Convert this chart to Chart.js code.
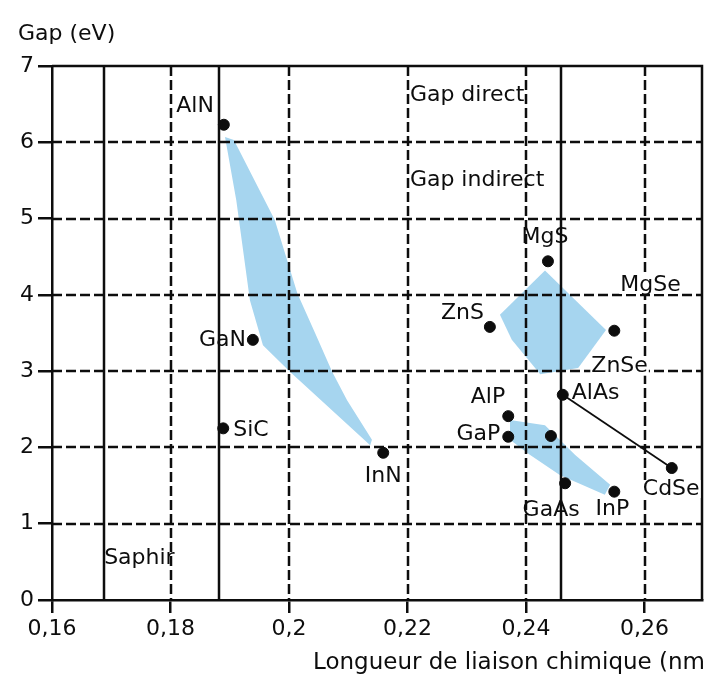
<!DOCTYPE html>
<html>
<head>
<meta charset="utf-8">
<script src="https://cdn.jsdelivr.net/npm/chart.js@4/dist/chart.umd.min.js"></script>
<style>
html,body{margin:0;padding:0;background:#fff;}
#wrap{width:704px;height:681px;position:relative;}
</style>
</head>
<body>
<div id="wrap"><canvas id="c" width="704" height="681"></canvas></div>
<script>
// ---- data ----
const pointNames = ['AlN','GaN','SiC','InN','MgS','ZnS','ZnSe','AlAs','AlP','GaP','','GaAs','InP','CdSe'];
const bondLength = [0.1890,0.1939,0.1889,0.2159,0.2437,0.2339,0.2549,0.2462,0.2370,0.2370,0.2442,0.2466,0.2549,0.2646];
const gapEV      = [6.23, 3.41, 2.25, 1.93, 4.44, 3.58, 3.53, 2.69, 2.41, 2.14, 2.15, 1.53, 1.42, 1.73];
const tieLine = ['AlAs','CdSe'];
const xTicks = [0.16,0.18,0.2,0.22,0.24,0.26];
const yTicks = [0,1,2,3,4,5,6,7];
const substrateX = [0.1688,0.1882,0.2459];
// shaded alloy regions (polygon vertices, data units)
const nitrideX = [0.1892,0.1907,0.1976,0.2014,0.2044,0.2073,0.2098,0.2140,0.2137,0.2002,0.1956,0.1934,0.1911,0.1892];
const nitrideY = [6.07, 6.03, 4.98, 4.02, 3.50, 2.99, 2.62, 2.10, 2.03, 2.99, 3.34, 3.93, 5.24, 6.07];
const ii6X = [0.2356,0.2432,0.2535,0.2488,0.2424,0.2376,0.2356];
const ii6Y = [3.74, 4.32, 3.54, 3.04, 2.96, 3.41, 3.74];
const iii5X = [0.2373,0.2432,0.2483,0.2542,0.2533,0.2457,0.2407,0.2373,0.2373];
const iii5Y = [2.36, 2.29, 1.90, 1.51, 1.38, 1.64, 1.90, 2.10, 2.36];
// free text annotations (data units)
const noteText = ['MgSe','Gap direct','Gap indirect','Saphir'];
const noteX = [0.2559,0.2204,0.2204,0.1688];
const noteY = [4.13, 6.62, 5.50, 0.55];
const yTitle = 'Gap (eV)';
const xTitle = 'Longueur de liaison chimique (nm)';

// ---- styles ----
const FONT = '"DejaVu Sans", sans-serif';
const FS = 22;
const INK = '#0d0d0d';
const BLUE = 'rgba(166,213,239,1)';
// label placement [dx, dy, align, whiteBg]
const labelStyle = {
  'AlN':[-10,-18,'right'], 'GaN':[-7,0,'right'], 'SiC':[10,2,'left'], 'InN':[0,24,'center'],
  'MgS':[-3,-24,'center'], 'ZnS':[-6,-14,'right'], 'ZnSe':[-23,36,'left',true], 'AlAs':[9,-2,'left'],
  'AlP':[-3,-19,'right'], 'GaP':[-8,-2,'right'], 'GaAs':[-14,27,'center'], 'InP':[-2,18,'center'],
  'CdSe':[-29,21,'left',true]
};
const noteStyle = {'MgSe':['left',true], 'Gap direct':['left',false], 'Gap indirect':['left',false], 'Saphir':['left',false]};

const zip = (xs, ys) => xs.map((x,i)=>({x, y: ys[i]}));
const pts = zip(bondLength, gapEV);
const tiePts = tieLine.map(n => pts[pointNames.indexOf(n)]);

function poly(xs, ys){
  return {type:'line', data: zip(xs, ys), fill:'shape', backgroundColor: BLUE,
    borderWidth:0, borderColor:'rgba(0,0,0,0)', pointRadius:0, tension:0, order:5};
}

const gridPlugin = {
  id:'gridPlugin',
  beforeDatasetsDraw(chart){
    const {ctx, chartArea:a, scales:{x,y}} = chart;
    ctx.save();
    ctx.strokeStyle = INK; ctx.lineWidth = 2.5;
    ctx.setLineDash([10,4]);
    xTicks.forEach(v => { if (v === xTicks[0]) return; const px = Math.round(x.getPixelForValue(v));
      ctx.beginPath(); ctx.moveTo(px, a.top); ctx.lineTo(px, a.bottom); ctx.stroke(); });
    yTicks.forEach(v => { if (v === 0 || v === 7) return; const py = Math.round(y.getPixelForValue(v));
      ctx.beginPath(); ctx.moveTo(a.left, py); ctx.lineTo(a.right, py); ctx.stroke(); });
    ctx.setLineDash([]);
    substrateX.forEach(v => { const px = Math.round(x.getPixelForValue(v));
      ctx.beginPath(); ctx.moveTo(px, a.top); ctx.lineTo(px, a.bottom); ctx.stroke(); });
    ctx.beginPath(); ctx.moveTo(a.left, a.top); ctx.lineTo(a.right, a.top); ctx.lineTo(a.right, a.bottom); ctx.stroke();
    ctx.restore();
  }
};

function drawText(ctx, txt, px, py, align, bg, size){
  ctx.font = (size || FS) + 'px ' + FONT;
  ctx.textAlign = align; ctx.textBaseline = 'middle';
  if (bg){
    const w = ctx.measureText(txt).width;
    let x0 = align === 'left' ? px : align === 'right' ? px - w : px - w/2;
    ctx.fillStyle = '#fff';
    ctx.fillRect(x0 - 1, py - 9, w + 2, 18);
  }
  ctx.fillStyle = INK;
  ctx.fillText(txt, px, py);
}

const labelPlugin = {
  id:'labelPlugin',
  afterDatasetsDraw(chart){
    const {ctx, scales:{x,y}} = chart;
    ctx.save();
    pointNames.forEach((n,i) => {
      if (!n) return;
      const s = labelStyle[n];
      const px = x.getPixelForValue(bondLength[i]), py = y.getPixelForValue(gapEV[i]);
      drawText(ctx, n, px + s[0], py + s[1], s[2], s[3]);
    });
    noteText.forEach((n,i) => {
      const s = noteStyle[n];
      drawText(ctx, n, x.getPixelForValue(noteX[i]), y.getPixelForValue(noteY[i]), s[0], s[1]);
    });
    drawText(ctx, yTitle, 18, 34, 'left', false);
    drawText(ctx, xTitle, chart.chartArea.left + 261, 663, 'left', false, 23);
    ctx.restore();
  }
};

new Chart(document.getElementById('c'), {
  type:'scatter',
  data:{ datasets:[
    poly(nitrideX, nitrideY),
    poly(ii6X, ii6Y),
    poly(iii5X, iii5Y),
    {type:'line', data: tiePts, borderColor:INK, borderWidth:1.8, pointRadius:0, fill:false, order:2},
    {type:'scatter', data: pts, backgroundColor:INK, borderColor:INK, pointRadius:5.5, pointHoverRadius:5.5, order:1}
  ]},
  options:{
    responsive:false, animation:false, events:[],
    layout:{autoPadding:false, padding:{top:66, right:2, left:0, bottom:0}},
    plugins:{legend:{display:false}, tooltip:{enabled:false}, title:{display:false},
      filler:{drawTime:'beforeDatasetsDraw'}},
    scales:{
      x:{type:'linear', min:0.16, max:0.2697,
        afterFit(s){ s.height = 81; s.paddingLeft = 0; s.paddingRight = 0; },
        afterBuildTicks(s){ s.ticks = xTicks.map(v=>({value:v})); },
        ticks:{ includeBounds:false, color:INK, padding:3, maxRotation:0, autoSkip:false,
          font:{family:FONT, size:FS},
          callback: v => String(+(+v).toFixed(2)).replace('.', ',') },
        grid:{drawOnChartArea:false, drawTicks:true, tickLength:13, color:INK, lineWidth:2.5},
        border:{display:true, color:INK, width:2.5}
      },
      y:{type:'linear', min:0, max:7,
        afterFit(s){ s.width = 52; s.paddingTop = 0; s.paddingBottom = 0; },
        afterBuildTicks(s){ s.ticks = yTicks.map(v=>({value:v})); },
        ticks:{ color:INK, padding:4, font:{family:FONT, size:FS} },
        grid:{drawOnChartArea:false, drawTicks:true, tickLength:14, color:INK, lineWidth:2.5},
        border:{display:true, color:INK, width:2.5}
      }
    }
  },
  plugins:[gridPlugin, labelPlugin]
});
</script>
</body>
</html>
